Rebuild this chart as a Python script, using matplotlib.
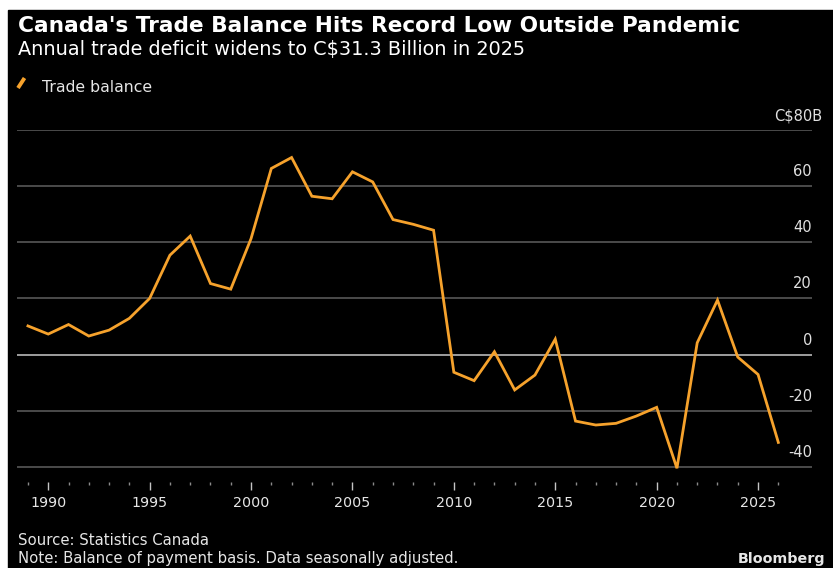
import numpy as np
import matplotlib
matplotlib.use('Agg')
import matplotlib.pyplot as plt
from matplotlib.patches import Rectangle
from matplotlib.lines import Line2D

# Canada annual merchandise trade balance, C$ billions
years = np.arange(1988, 2026)
balance = [10.2, 7.3, 10.7, 6.6, 8.7, 12.9, 20.0, 35.4, 42.2, 25.3,
           23.3, 41.3, 66.3, 70.2, 56.4, 55.5, 65.1, 61.5, 48.1, 46.4,
           44.3, -6.3, -9.3, 1.0, -12.6, -7.3, 5.5, -23.7, -25.1, -24.5,
           -21.9, -18.8, -40.5, 4.2, 19.4, -0.9, -7.1, -31.3]

y_ticks = [80, 60, 40, 20, 0, -20, -40]
y_labels = ['C$80B', '60', '40', '20', '0', '-20', '-40']
x_ticks = [1990, 1995, 2000, 2005, 2010, 2015, 2020, 2025]

ORANGE = '#f6a22c'
W, H = 833, 568

fig = plt.figure(figsize=(W / 100, H / 100), dpi=100, facecolor='white')
# black panel, leaving a thin white strip on the top and left
fig.patches.append(Rectangle((8 / W, 0), 1 - 8 / W, 1 - 10 / H,
                             transform=fig.transFigure, color='black', zorder=-5))

def fx(px):
    return px / W

def fy(py):
    return 1 - py / H

ax = fig.add_axes([fx(17), fy(482), fx(812) - fx(17), fy(130) - fy(482)])
ax.set_facecolor('black')

# values are dated at the end of each year
ax.plot(years + 1, balance, color=ORANGE, lw=2.0, solid_joinstyle='miter', zorder=3)

ax.set_xlim(1988.46, 2027.66)
ax.set_ylim(-45.4, 80)

for v in y_ticks:
    ax.axhline(v, color='#c8c8c8' if v == 0 else '#5e5e5e', lw=1.1, zorder=1)

ax.set_yticks([])
ax.set_xticks(x_ticks)
ax.set_xticks(np.arange(1989, 2027), minor=True)
ax.tick_params(axis='x', which='major', length=6, width=1, color='#c4c4c4',
               labelcolor='#e6e6e6', labelsize=10.3, pad=4)
ax.tick_params(axis='x', which='minor', length=2.5, width=1, color='#8a8a8a')
for s in ax.spines.values():
    s.set_visible(False)

# value labels sit just above their gridlines on the right
for v, lab in zip(y_ticks, y_labels):
    xpos = 1.0 if v != 80 else 1.0 + 10 / (812 - 17)
    ax.annotate(lab, xy=(xpos, v), xycoords=('axes fraction', 'data'),
                xytext=(0, 5), textcoords='offset points',
                ha='right', va='bottom', color='#e0e0e0', fontsize=10.5)

fig.text(fx(18), fy(32.5), "Canada's Trade Balance Hits Record Low Outside Pandemic",
         color='white', fontsize=15.6, fontweight='bold', va='baseline')
fig.text(fx(18), fy(55.5), 'Annual trade deficit widens to C$31.3 Billion in 2025',
         color='white', fontsize=13.9, va='baseline')

fig.add_artist(Line2D([fx(18), fx(24.5)], [fy(88), fy(78)], color=ORANGE, lw=2.8,
                      solid_capstyle='butt'))
fig.text(fx(42), fy(92), 'Trade balance', color='#e6e6e6', fontsize=11.3, va='baseline')

fig.text(fx(18), fy(545), 'Source: Statistics Canada', color='#e6e6e6',
         fontsize=10.7, va='baseline')
fig.text(fx(18), fy(563), 'Note: Balance of payment basis. Data seasonally adjusted.',
         color='#e6e6e6', fontsize=10.7, va='baseline')
fig.text(fx(825), fy(563), 'Bloomberg', color='#e6e6e6', fontsize=10.3,
         fontweight='bold', ha='right', va='baseline')

fig.savefig('out.png', dpi=100, facecolor=fig.get_facecolor())
